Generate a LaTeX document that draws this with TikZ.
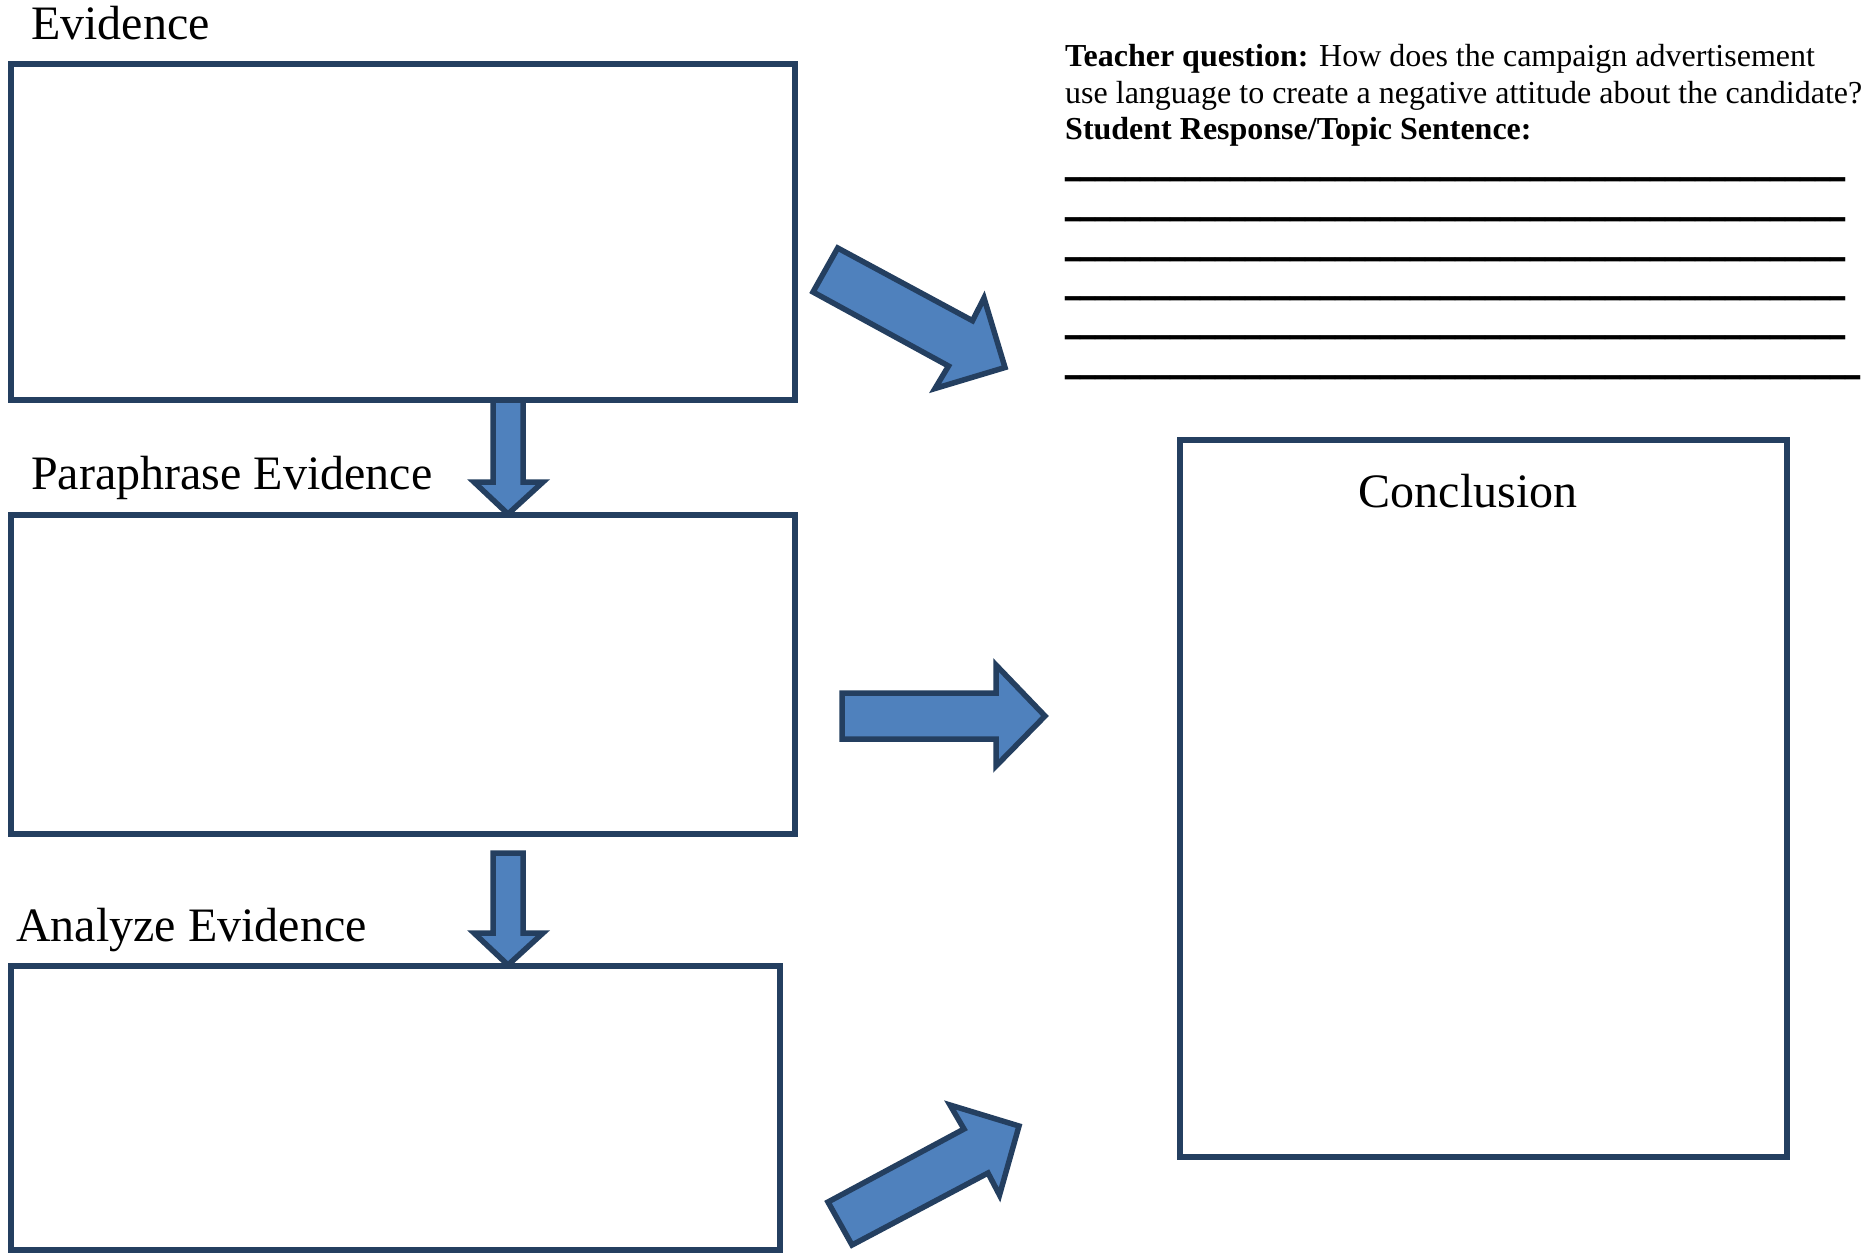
\documentclass[tikz,border=0pt]{standalone}
\usepackage{graphicx}
\usepackage{fontspec}
\setmainfont{Liberation Serif}
\definecolor{arrowfill}{HTML}{4F81BD}
\definecolor{navy}{HTML}{243F60}
\newcommand{\uline}{\_\_\_\_\_\_\_\_\_\_\_\_\_\_\_\_\_\_\_\_\_\_\_\_\_\_\_\_\_\_\_\_\_\_\_\_\_\_\_\_\_\_\_\_\_\_\_\_\_\_\_\_}
\begin{document}
\begin{tikzpicture}[x=1pt,y=-1pt,
  boxstyle/.style={draw=navy,line width=6pt,fill=none},
  blockarrow/.style={draw=navy,fill=arrowfill,line width=5.5pt,line join=miter},
  label/.style={anchor=base west,inner sep=0pt,font=\fontsize{48}{56}\selectfont},
  qtext/.style={anchor=base west,inner sep=0pt,font=\fontsize{32}{36}\selectfont},
  ltext/.style={anchor=base west,inner sep=0pt,font=\fontsize{30}{36}\selectfont\bfseries},
]
\useasboundingbox (0,0) rectangle (1868,1253);
% boxes
\draw[boxstyle] (11,64) rectangle (795,400);
\draw[boxstyle] (11,515) rectangle (795,834);
\draw[boxstyle] (11,966) rectangle (780,1250);
\draw[boxstyle] (1180,440) rectangle (1787,1157);
% labels
\node[label] (evid) at (31,39) {Evidence};
\node[label] (para) at (31,489) {Paraphrase Evidence};
\node[label] (anal) at (16,941) {Analyze Evidence};
\node[anchor=base,inner sep=0pt,font=\fontsize{48}{56}\selectfont] (concl) at (1468,507) {Conclusion};
% teacher question
\node[qtext] (tq1) at (1065,66.7) {\textbf{Teacher question:} How does the campaign advertisement};
\node[qtext] (tq2) at (1065,103.6) {use language to create a negative attitude about the candidate?};
\node[qtext] (tq3) at (1065,139.4) {\textbf{Student Response/Topic Sentence:}};
% answer lines
\node[ltext] (l1) at (1065,173.2) {\scalebox{1}[2]{\uline}};
\node[ltext] (l2) at (1065,213.5) {\scalebox{1}[2]{\uline}};
\node[ltext] (l3) at (1065,253) {\scalebox{1}[2]{\uline}};
\node[ltext] (l4) at (1065,292.3) {\scalebox{1}[2]{\uline}};
\node[ltext] (l5) at (1065,331.5) {\scalebox{1}[2]{\uline}};
\node[ltext] (l6) at (1065,371) {\scalebox{1}[2]{\uline\_}};
% down arrows
\draw[blockarrow] (493,400) -- (523,400) -- (523,482) -- (543,482) -- (508,514) -- (474,482) -- (493,482) -- cycle;
\draw[blockarrow] (493,853) -- (523,853) -- (523,933) -- (543,933) -- (508,965) -- (474,933) -- (493,933) -- cycle;
% right arrow
\draw[blockarrow] (842,693) -- (996,693) -- (996,665) -- (1045,716) -- (996,766) -- (996,739) -- (842,739) -- cycle;
% diagonal down-right
\draw[blockarrow] (837.7,248) -- (972.5,320.7) -- (984,298) -- (1005,367.5) -- (935,388.5) -- (948.5,366) -- (813,292) -- cycle;
% diagonal up-right
\draw[blockarrow] (828,1202) -- (964,1129) -- (950,1105) -- (1019,1126) -- (999.5,1195) -- (988,1173) -- (852,1245) -- cycle;
\end{tikzpicture}
\end{document}
